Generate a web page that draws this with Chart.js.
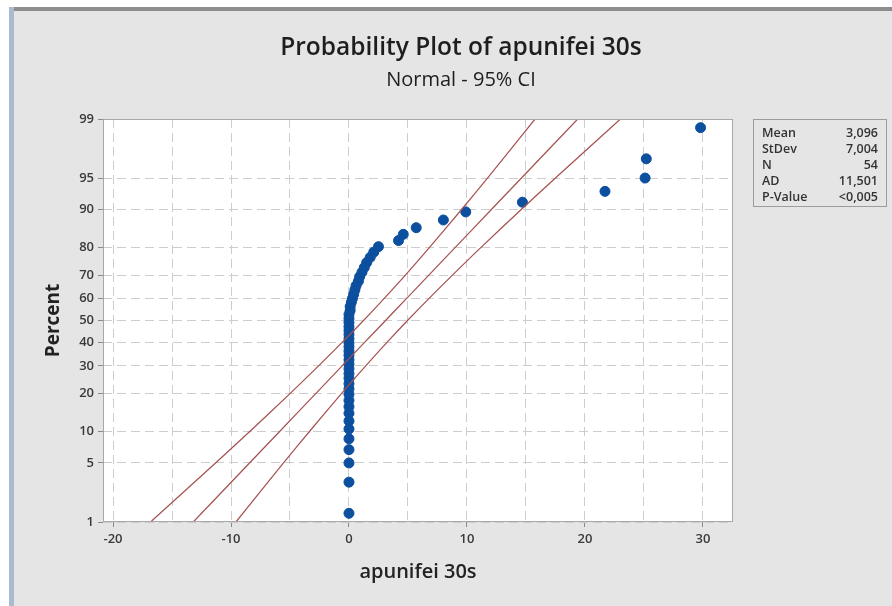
<!DOCTYPE html>
<html>
<head>
<meta charset="utf-8">
<script src="https://cdn.jsdelivr.net/npm/chart.js@4.4.1/dist/chart.umd.min.js"></script>
<style>
  html, body { margin: 0; padding: 0; background: #fff; }
  #wrap { position: relative; width: 892px; height: 606px; }
  canvas { display: block; }
</style>
</head>
<body>
<div id="wrap"><canvas id="chart" width="892" height="606"></canvas></div>
<script>
// observations, sorted (x) and their plotting positions in percent (y)
const obsValues = [
  0, 0, 0, 0, 0, 0, 0, 0, 0, 0,
  0, 0, 0, 0, 0, 0, 0, 0, 0, 0,
  0, 0, 0, 0, 0, 0, 0, 0, 0, 0.1,
  0.1, 0.2, 0.3, 0.4, 0.5, 0.6, 0.8, 0.9, 1.1, 1.3,
  1.5, 1.8, 2.1, 2.5, 4.2, 4.6, 5.7, 8.0, 9.9, 14.7,
  21.7, 25.1, 25.2, 29.8
];
const obsPercent = [
  1.3, 3.1, 5.0, 6.8, 8.6, 10.5, 12.3, 14.2, 16.0, 17.8,
  19.7, 21.5, 23.3, 25.2, 27.0, 28.9, 30.7, 32.5, 34.4, 36.2,
  38.1, 39.9, 41.7, 43.6, 45.4, 47.2, 49.1, 50.9, 52.8, 54.6,
  56.4, 58.3, 60.1, 61.9, 63.8, 65.6, 67.5, 69.3, 71.1, 73.0,
  74.8, 76.7, 78.5, 80.3, 82.2, 84.0, 85.8, 87.7, 89.5, 91.4,
  93.2, 95.0, 96.9, 98.7
];

// fitted line and 95% CI bounds, read at the percent ticks
const linePercent = [1, 5, 10, 20, 30, 40, 50, 60, 70, 80, 90, 95, 99];
const fitValues   = [-13.20, -8.43, -5.88, -2.80, -0.58, 1.32, 3.10, 4.87, 6.77, 8.99, 12.07, 14.62, 19.39];
const ciLower     = [-16.82, -11.31, -8.41, -4.98, -2.58, -0.58, 1.23, 2.97, 4.78, 6.81, 9.54, 11.74, 15.77];
const ciUpper     = [-9.58, -5.55, -3.35, -0.62, 1.42, 3.22, 4.96, 6.77, 8.77, 11.17, 14.60, 17.50, 23.01];

const yTicks = [1, 5, 10, 20, 30, 40, 50, 60, 70, 80, 90, 95, 99];
const xTicks = [-20, -15, -10, -5, 0, 5, 10, 15, 20, 25, 30];

const statLabels = ["Mean", "StDev", "N", "AD", "P-Value"];
const statValues = ["3,096", "7,004", "54", "11,501", "<0,005"];

const FONT = "'Open Sans', 'Noto Sans', sans-serif";

// inverse of the standard normal CDF (Acklam)
function probit(p) {
  const a = [-39.69683028665376, 220.9460984245205, -275.9285104469687, 138.3577518672690, -30.66479806614716, 2.506628277459239];
  const b = [-54.47609879822406, 161.5858368580409, -155.6989798598866, 66.80131188771972, -13.28068155288572];
  const c = [-0.007784894002430293, -0.3223964580411365, -2.400758277161838, -2.549732539343734, 4.374664141464968, 2.938163982698783];
  const d = [0.007784695709041462, 0.3224671290700398, 2.445134137142996, 3.754408661907416];
  const lo = 0.02425, hi = 1 - lo;
  let q, r;
  if (p < lo) {
    q = Math.sqrt(-2 * Math.log(p));
    return (((((c[0]*q+c[1])*q+c[2])*q+c[3])*q+c[4])*q+c[5]) / ((((d[0]*q+d[1])*q+d[2])*q+d[3])*q+1);
  }
  if (p > hi) {
    q = Math.sqrt(-2 * Math.log(1 - p));
    return -(((((c[0]*q+c[1])*q+c[2])*q+c[3])*q+c[4])*q+c[5]) / ((((d[0]*q+d[1])*q+d[2])*q+d[3])*q+1);
  }
  q = p - 0.5; r = q * q;
  return (((((a[0]*r+a[1])*r+a[2])*r+a[3])*r+a[4])*r+a[5])*q / (((((b[0]*r+b[1])*r+b[2])*r+b[3])*r+b[4])*r+1);
}

// normal probability scale: values are percents, spaced by their z-score
class ProbitScale extends Chart.LinearScale {
  determineDataLimits() {
    this.min = probit(yTicks[0] / 100);
    this.max = probit(yTicks[yTicks.length - 1] / 100);
  }
  buildTicks() {
    return yTicks.map(v => ({ value: v }));
  }
  getPixelForValue(v) {
    return super.getPixelForValue(probit(v / 100));
  }
}
ProbitScale.id = "probit";
ProbitScale.defaults = {};
Chart.register(ProbitScale);

const lineColor = "#a5504f";
const dotColor = "#0c4f9e";

const frame = {
  id: "frame",
  beforeDraw(chart) {
    const ctx = chart.ctx, a = chart.chartArea;
    ctx.save();
    ctx.fillStyle = "#fff";
    ctx.fillRect(0, 0, 892, 606);
    ctx.fillStyle = "#e5e5e5";
    ctx.fillRect(9, 7, 883, 599);
    ctx.fillStyle = "#8d8d8d";
    ctx.fillRect(9, 7, 883, 4);
    ctx.fillStyle = "#aabbd0";
    ctx.fillRect(9, 7, 5, 599);
    ctx.fillStyle = "#fff";
    ctx.fillRect(a.left, a.top, a.right - a.left, a.bottom - a.top);
    ctx.restore();
  },
  afterDraw(chart) {
    const ctx = chart.ctx, a = chart.chartArea;
    ctx.save();
    ctx.strokeStyle = "#a8a8a8";
    ctx.lineWidth = 1;
    ctx.strokeRect(a.left + 0.5, a.top + 0.5, a.right - a.left - 1, a.bottom - a.top - 1);

    // titles
    ctx.fillStyle = "#1e1e1e";
    ctx.textAlign = "center";
    ctx.textBaseline = "middle";
    ctx.font = "600 24.5px " + FONT;
    ctx.fillText("Probability Plot of apunifei 30s", 461, 48);
    ctx.font = "400 20px " + FONT;
    ctx.fillText("Normal - 95% CI", 461, 80);

    // statistics box
    ctx.strokeStyle = "#9c9c9c";
    ctx.strokeRect(753.5, 119.5, 133, 87);
    ctx.font = "600 12.5px " + FONT;
    ctx.fillStyle = "#333";
    ctx.textBaseline = "middle";
    statLabels.forEach((lab, i) => {
      const y = 133.5 + i * 16;
      ctx.textAlign = "left";
      ctx.fillText(lab, 762, y);
      ctx.textAlign = "right";
      ctx.fillText(statValues[i], 878, y);
    });
    ctx.restore();
  }
};

function pairs(xs, ys) {
  return xs.map((x, i) => ({ x: x, y: ys[i] }));
}

const lineStyle = {
  type: "line",
  showLine: true,
  borderColor: lineColor,
  borderWidth: 1.2,
  pointRadius: 0,
  fill: false,
  tension: 0.3
};

const gridDash = [9, 5];

new Chart(document.getElementById("chart"), {
  type: "scatter",
  data: {
    datasets: [
      Object.assign({ label: "CI lower", data: pairs(ciLower, linePercent) }, lineStyle),
      Object.assign({ label: "Fit", data: pairs(fitValues, linePercent) }, lineStyle),
      Object.assign({ label: "CI upper", data: pairs(ciUpper, linePercent) }, lineStyle),
      {
        label: "apunifei 30s",
        data: pairs(obsValues, obsPercent),
        backgroundColor: dotColor,
        borderColor: dotColor,
        pointRadius: 5,
        pointHoverRadius: 5
      }
    ]
  },
  options: {
    responsive: false,
    animation: false,
    devicePixelRatio: 1,
    clip: true,
    layout: { padding: { top: 119, right: 159, left: 0, bottom: 0 } },
    plugins: { legend: { display: false }, tooltip: { enabled: false } },
    scales: {
      x: {
        type: "linear",
        min: -20.85,
        max: 32.55,
        afterFit: s => { s.height = 84; },
        afterBuildTicks: s => { s.ticks = xTicks.map(v => ({ value: v })); },
        ticks: {
          autoSkip: false,
          maxRotation: 0,
          padding: 4,
          color: "#3a3a3a",
          font: { family: FONT, size: 13, weight: "600" },
          callback: v => (v % 10 === 0 ? String(v) : "")
        },
        grid: {
          color: "#cdcdcd",
          tickLength: 5,
          tickBorderDash: [],
          tickColor: c => (c.tick && c.tick.value % 10 === 0 ? "#8a8a8a" : "rgba(0,0,0,0)")
        },
        border: { display: false, dash: gridDash },
        title: {
          display: true,
          text: "apunifei 30s",
          color: "#222",
          font: { family: FONT, size: 20, weight: "600" },
          padding: { top: 0, bottom: 22 }
        }
      },
      y: {
        type: "probit",
        position: "left",
        afterFit: s => { s.width = 103; },
        ticks: {
          padding: 4,
          color: "#3a3a3a",
          font: { family: FONT, size: 13, weight: "600" }
        },
        grid: {
          color: "#cdcdcd",
          tickLength: 5,
          tickBorderDash: [],
          tickColor: "#8a8a8a"
        },
        border: { display: false, dash: gridDash },
        title: {
          display: true,
          text: "Percent",
          color: "#222",
          font: { family: FONT, size: 19, weight: "700" },
          padding: { top: 42, bottom: 0 }
        }
      }
    }
  },
  plugins: [frame]
});
</script>
</body>
</html>
